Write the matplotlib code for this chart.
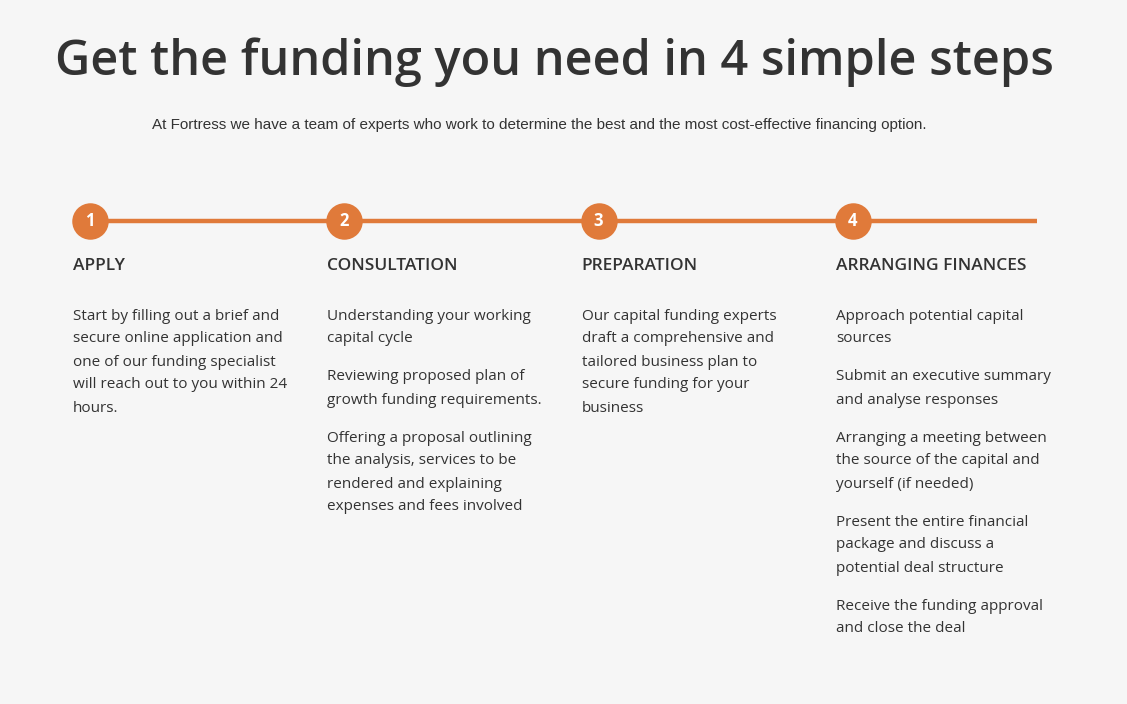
import matplotlib
matplotlib.use("Agg")
import matplotlib.pyplot as plt

title = "Get the funding you need in 4 simple steps"
subtitle = "At Fortress we have a team of experts who work to determine the best and the most cost-effective financing option."
numbers = ["1", "2", "3", "4"]
headings = ["APPLY", "CONSULTATION", "PREPARATION", "ARRANGING FINANCES"]
paragraphs = [
    [["Start by filling out a brief and", "secure online application and", "one of our funding specialist", "will reach out to you within 24", "hours."]],
    [["Understanding your working", "capital cycle"],
     ["Reviewing proposed plan of", "growth funding requirements."],
     ["Offering a proposal outlining", "the analysis, services to be", "rendered and explaining", "expenses and fees involved"]],
    [["Our capital funding experts", "draft a comprehensive and", "tailored business plan to", "secure funding for your", "business"]],
    [["Approach potential capital", "sources"],
     ["Submit an executive summary", "and analyse responses"],
     ["Arranging a meeting between", "the source of the capital and", "yourself (if needed)"],
     ["Present the entire financial", "package and discuss a", "potential deal structure"],
     ["Receive the funding approval", "and close the deal"]],
]

BG = "#f6f6f6"; OR = "#e07a3a"; TX = "#333333"
fig = plt.figure(figsize=(11.27, 7.04), dpi=100, facecolor=BG)
ax = fig.add_axes([0, 0, 1, 1]); ax.set_xlim(0, 1127); ax.set_ylim(704, 0); ax.axis("off")
ax.set_facecolor(BG)

ax.text(554, 62, title, fontsize=35, fontweight="semibold", family="Open Sans", color=TX, ha="center", va="center")
ax.text(539, 125, subtitle, fontsize=11, family="Liberation Sans", color=TX, ha="center", va="center")

xs = [73 + 254.3 * i for i in range(4)]
ax.plot([90, 1037], [221, 221], color=OR, lw=3.2, solid_capstyle="butt", zorder=1)
ax.scatter([x + 17 for x in xs], [221] * 4, s=690, color=OR, zorder=2, linewidths=0)
for x, n, h, paras in zip(xs, numbers, headings, paragraphs):
    ax.text(x + 17, 221, n, color="white", fontsize=12, fontweight="bold", family="Open Sans", ha="center", va="center", zorder=3)
    ax.text(x, 266, h, color=TX, fontsize=12.5, fontweight="semibold", family="Open Sans", ha="left", va="center")
    y = 316
    for p in paras:
        for line in p:
            ax.text(x, y, line, color=TX, fontsize=11, family="Open Sans", ha="left", va="center")
            y += 23
        y += 15
fig.savefig("out.png", dpi=100, facecolor=BG)
